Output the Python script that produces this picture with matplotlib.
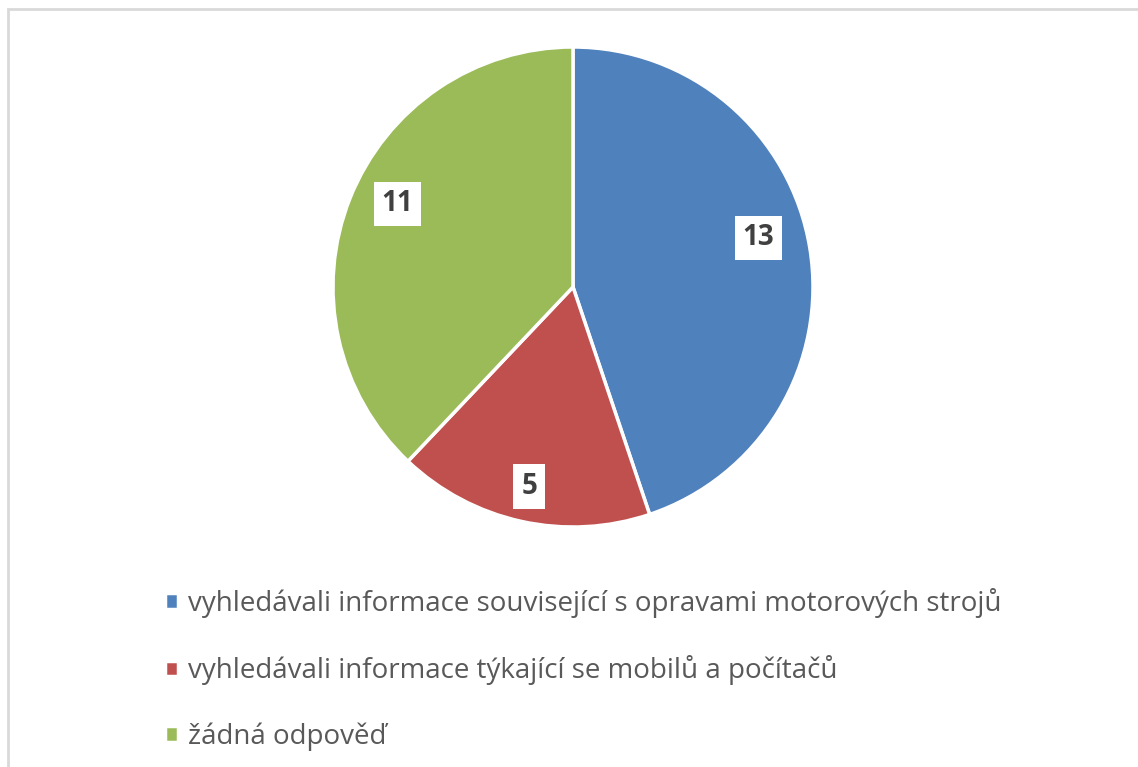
import numpy as np
import matplotlib.pyplot as plt
from matplotlib.patches import Rectangle

# data
labels = [
    "vyhledávali informace související s opravami motorových strojů",
    "vyhledávali informace týkající se mobilů a počítačů",
    "žádná odpověď",
]
values = [13, 5, 11]
colors = ["#4F81BD", "#C0504D", "#9BBB59"]

# label placement (best-fit nudges, like the original)
label_dist = [0.8, 0.85, 0.81]
label_turn = [5.5, 0.0, -3.6]

W, H = 1138, 767
fig = plt.figure(figsize=(W / 100, H / 100), dpi=100)

# chart border (cut off at right and bottom)
fig.patches.append(Rectangle((8 / W, -0.05), 1.2, 1 - 9 / H + 0.05,
                             transform=fig.transFigure, fill=False,
                             edgecolor="#D9D9D9", linewidth=2))

cx, cy, r = 573, 287, 240
ax = fig.add_axes([(cx - r) / W, (H - cy - r) / H, 2 * r / W, 2 * r / H])
wedges, _ = ax.pie(values, colors=colors, startangle=90, counterclock=False,
                   wedgeprops=dict(edgecolor="white", linewidth=2.5))
ax.set_xlim(-1, 1)
ax.set_ylim(-1, 1)
ax.set_aspect("equal")

# value labels in white boxes
total = sum(values)
start = 90
for v, d, t in zip(values, label_dist, label_turn):
    ang = np.deg2rad(start - v / total * 360 / 2 + t)
    start -= v / total * 360
    ax.text(d * np.cos(ang), d * np.sin(ang), str(v), ha="center", va="center",
            fontsize=20, fontweight="bold", color="#404040", family="Open Sans",
            bbox=dict(facecolor="white", edgecolor="none", boxstyle="square,pad=0.28"))

# legend
fig.legend(wedges, labels, loc="upper left", bbox_to_anchor=(140 / W, 1 - 563 / H),
           frameon=False, handlelength=0.47, handleheight=0.47, handletextpad=0.36,
           labelspacing=1.34, prop=dict(family="Open Sans", size=20), labelcolor="#595959")

fig.savefig("out.png", dpi=100)
